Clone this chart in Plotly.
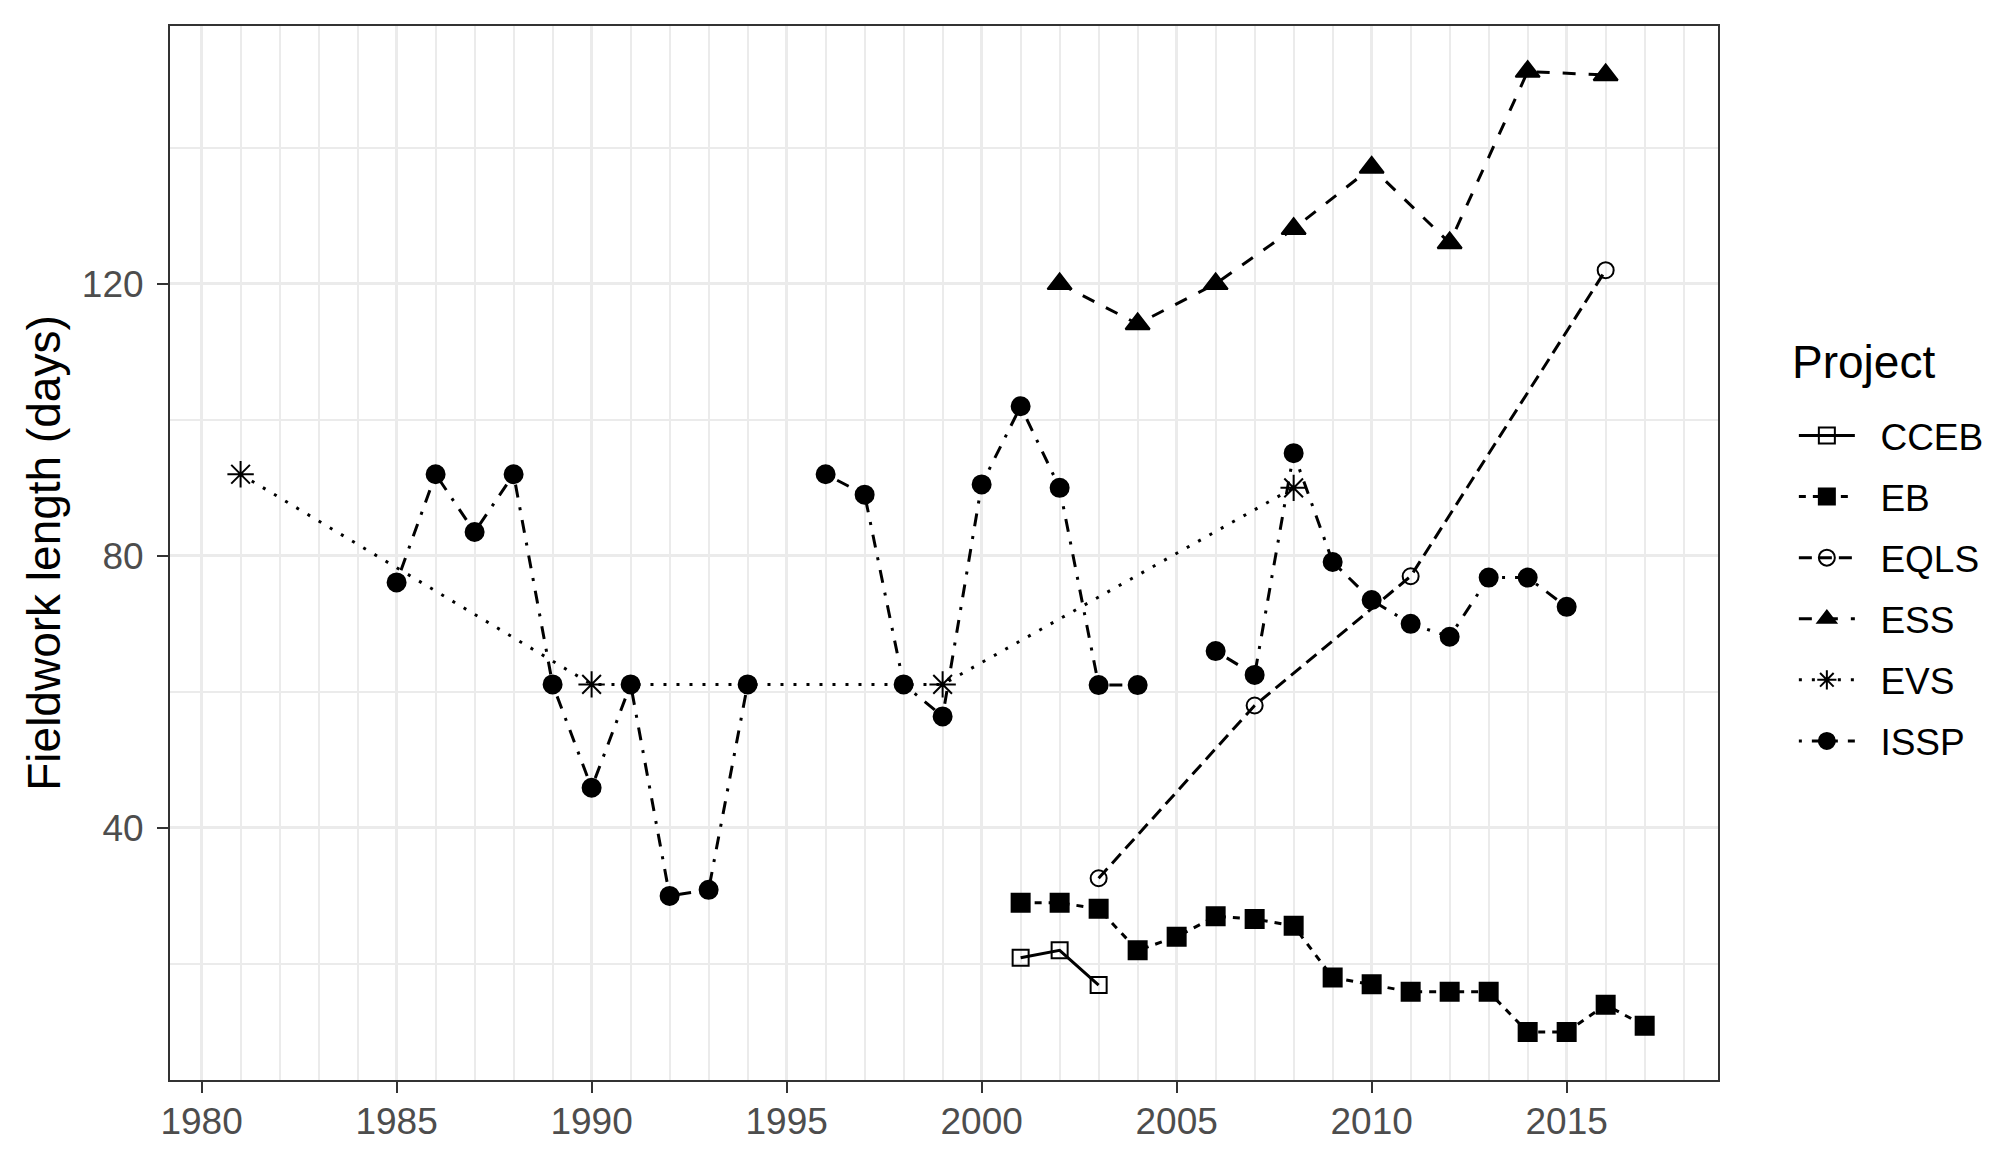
import plotly.graph_objects as go

# fieldwork length (days) by project and survey year
cceb_years = [2001, 2002, 2003]
cceb_days = [20.9, 22.0, 16.9]

eb_years = list(range(2001, 2018))
eb_days = [29.0, 29.0, 28.1, 22.0, 24.0, 27.0, 26.6, 25.6, 18.0, 17.0,
           15.9, 15.9, 15.9, 10.0, 10.0, 14.0, 10.9]

eqls_years = [2003, 2007, 2011, 2016]
eqls_days = [32.6, 58.0, 77.0, 122.0]

ess_years = [2002, 2004, 2006, 2008, 2010, 2012, 2014, 2016]
ess_days = [120.0, 114.1, 120.0, 128.1, 137.1, 126.0, 151.2, 150.7]

evs_years = [1981, 1990, 1999, 2008]
evs_days = [92.0, 61.1, 61.1, 90.0]

# None = year with no ISSP value, line breaks there
issp_years = list(range(1985, 2016))
issp_days = [76.1, 92.0, 83.5, 92.0, 61.1, 45.9, 61.1, 30.0, 30.9, 61.1,
             None, 92.0, 89.0, 61.1, 56.4, 90.5, 102.0, 90.0, 61.0, 61.0,
             None, 66.0, 62.5, 95.1, 79.1, 73.5, 70.0, 68.1, 76.8, 76.8, 72.5]

x_ticks = [1980, 1985, 1990, 1995, 2000, 2005, 2010, 2015]
y_ticks = [40, 80, 120]

series = [
    ("CCEB", cceb_years, cceb_days, "square-open", 16, "solid"),
    ("EB", eb_years, eb_days, "square", 18, "7px,7px"),
    ("EQLS", eqls_years, eqls_days, "circle-open", 16, "13px,7px"),
    ("ESS", ess_years, ess_days, "triangle-up", 21, "13px,13px"),
    ("EVS", evs_years, evs_days, "asterisk-open", 22, "3px,10px"),
    ("ISSP", issp_years, issp_days, "circle", 18, "3px,10px,13px,10px"),
]

fig = go.Figure()
for name, xs, ys, sym, size, dash in series:
    fig.add_trace(go.Scatter(
        x=xs, y=ys, name="\u00a0\u00a0" + name, mode="lines+markers",
        legendgroup=name,
        line=dict(color="black", width=3, dash=dash),
        marker=dict(symbol=sym, size=size, color="black",
                    line=dict(color="black", width=2)),
        connectgaps=False,
    ))

grid_major = "#EBEBEB"
fig.update_layout(
    width=2000, height=1149,
    margin=dict(l=162, r=290, t=18, b=77),
    paper_bgcolor="white", plot_bgcolor="white",
    font=dict(family="Liberation Sans, Arial", color="black", size=37),
    legend=dict(
        font=dict(size=37),
        x=1.049, xanchor="left", y=0.6405, yanchor="top",
        itemwidth=56, tracegroupgap=10,
        bgcolor="rgba(0,0,0,0)",
    ),
    showlegend=True,
    annotations=[dict(
        text="Project", xref="paper", yref="paper",
        x=1.0465, y=0.681, xanchor="left", yanchor="middle",
        showarrow=False, font=dict(size=46, color="black"),
    )],
)
fig.update_xaxes(
    range=[1979.19, 2018.88],
    tickvals=x_ticks,
    tickfont=dict(size=37, color="#4D4D4D"),
    ticks="outside", ticklen=11, tickwidth=2, tickcolor="#333333",
    ticklabelstandoff=-3,
    showgrid=True, gridcolor=grid_major, gridwidth=3,
    minor=dict(dtick=1, tick0=1980, showgrid=True, gridcolor=grid_major, gridwidth=1.5),
    showline=True, linecolor="#333333", linewidth=2, mirror=True,
    zeroline=False,
)
fig.update_yaxes(
    range=[2.94, 157.9],
    tickvals=y_ticks,
    tickfont=dict(size=37, color="#4D4D4D"),
    ticks="outside", ticklen=11, tickwidth=2, tickcolor="#333333",
    ticklabelstandoff=6,
    showgrid=True, gridcolor=grid_major, gridwidth=3,
    minor=dict(dtick=20, tick0=0, showgrid=True, gridcolor=grid_major, gridwidth=1.5),
    showline=True, linecolor="#333333", linewidth=2, mirror=True,
    zeroline=False,
    title=dict(text="Fieldwork length (days)", font=dict(size=46, color="black"), standoff=7),
)

fig.write_html("out.html")
